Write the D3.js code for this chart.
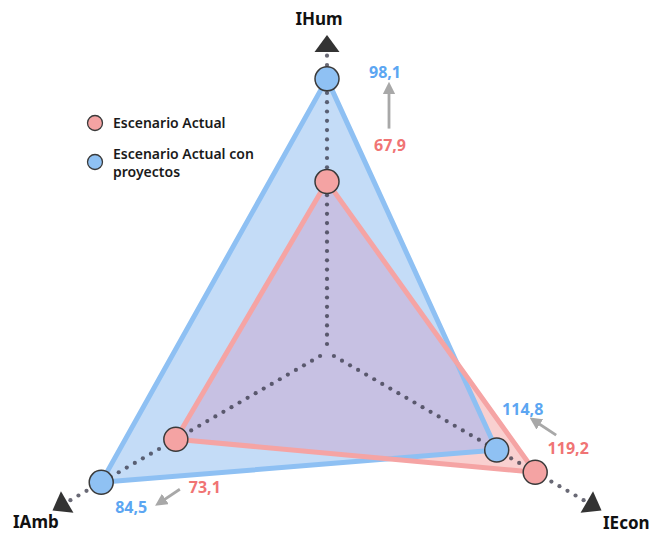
<!DOCTYPE html>
<html>
<head>
<meta charset="utf-8">
<script src="https://cdn.jsdelivr.net/npm/d3@7"></script>
<style>
  html, body { margin: 0; padding: 0; background: #fff; }
  svg { display: block; font-family: "Noto Sans", "Open Sans", sans-serif; }
</style>
</head>
<body>
<svg id="chart" width="654" height="533"></svg>
<script>
// Axes of the triangle (clockwise from the top)
const axes = ["IHum", "IEcon", "IAmb"];
// Each index has its own scale: value range mapped onto the axis length
const axisMin = [17.8, 95.4, 50.0];
const axisMax = [106.0, 125.1, 89.7];
const axisAngle = [-90, 30, 150];

const seriesNames = ["Escenario Actual", "Escenario Actual con proyectos"];
const actual = [67.9, 119.2, 73.1];
const withProjects = [98.1, 114.8, 84.5];

const fmt = v => String(v).replace(".", ",");

const cx = 327, cy = 352, R = 300;
const svg = d3.select("#chart");

const scales = axes.map((a, i) => d3.scaleLinear().domain([axisMin[i], axisMax[i]]).range([0, R]));
const rad = i => axisAngle[i] * Math.PI / 180;
const project = (i, v) => {
  const r = scales[i](v);
  return [cx + r * Math.cos(rad(i)), cy + r * Math.sin(rad(i))];
};
const polar = (i, r) => [cx + r * Math.cos(rad(i)), cy + r * Math.sin(rad(i))];

const ptsBlue = withProjects.map((v, i) => project(i, v));
const ptsRed = actual.map((v, i) => project(i, v));
const line = d3.line().curve(d3.curveLinearClosed);

const COL = {
  blueFill: "#c4dcf7", blueStroke: "#8ec0f3", blueDot: "#8fc1f3", blueText: "#5ca6f2",
  redFill: "#f9d0d0", redStroke: "#f5a4a4", redDot: "#f4a3a3", redText: "#f07474",
  overlap: "#c7c1e3", dark: "#333333", gray: "#a8a8a8"
};

// defs: clip path for the shared region, arrow marker
const defs = svg.append("defs");
defs.append("clipPath").attr("id", "clipBlue")
  .append("path").attr("d", line(ptsBlue));
defs.append("marker").attr("id", "grayHead")
  .attr("viewBox", "0 0 10 10").attr("refX", 5).attr("refY", 5)
  .attr("markerWidth", 4.4).attr("markerHeight", 4.4).attr("orient", "auto")
  .append("path").attr("d", "M0,0 L10,5 L0,10 Z").attr("fill", COL.gray);

// fills
svg.append("path").attr("d", line(ptsBlue)).attr("fill", COL.blueFill);
svg.append("path").attr("d", line(ptsRed)).attr("fill", COL.redFill);
svg.append("path").attr("d", line(ptsRed)).attr("fill", COL.overlap).attr("clip-path", "url(#clipBlue)");

// dotted axes
const gAxes = svg.append("g");
axes.forEach((a, i) => {
  const dots = d3.range(8, 300, 9.3);
  gAxes.selectAll(null).data(dots).enter().append("circle")
    .attr("cx", r => polar(i, r)[0]).attr("cy", r => polar(i, r)[1])
    .attr("r", 2.1).attr("fill", "#2f2f40").attr("opacity", 0.72);
  // arrow head at the end of each axis
  const base = polar(i, R), tip = polar(i, R + 17);
  const px = -Math.sin(rad(i)) * 12.5, py = Math.cos(rad(i)) * 12.5;
  gAxes.append("path")
    .attr("d", `M${tip[0]},${tip[1]} L${base[0] + px},${base[1] + py} L${base[0] - px},${base[1] - py} Z`)
    .attr("fill", COL.dark);
});

// outlines
svg.append("path").attr("d", line(ptsBlue)).attr("fill", "none")
  .attr("stroke", COL.blueStroke).attr("stroke-width", 5).attr("stroke-linejoin", "round");
svg.append("path").attr("d", line(ptsRed)).attr("fill", "none")
  .attr("stroke", COL.redStroke).attr("stroke-width", 5).attr("stroke-linejoin", "round");

// vertex markers
const drawPts = (pts, fill) => svg.append("g").selectAll("circle").data(pts).enter().append("circle")
  .attr("cx", d => d[0]).attr("cy", d => d[1]).attr("r", 12)
  .attr("fill", fill).attr("stroke", "#3a3a3a").attr("stroke-width", 1.5);
drawPts(ptsRed, COL.redDot);
drawPts(ptsBlue, COL.blueDot);

// axis titles
const titlePos = [
  { x: 319, y: 25, anchor: "middle" },
  { x: 603, y: 529, anchor: "start" },
  { x: 13, y: 528, anchor: "start" }
];
axes.forEach((a, i) => {
  svg.append("text").attr("x", titlePos[i].x).attr("y", titlePos[i].y)
    .attr("text-anchor", titlePos[i].anchor)
    .attr("font-size", 17).attr("font-weight", 700).attr("fill", "#111").text(a);
});

// value annotations (offsets from the vertex markers)
const blueOff = [[58, -6], [26, -41], [30, 25]];
const redOff = [[63, -36], [33, -24], [29, 48]];
const arrowFrom = [[-1, -17], [-12, -13], [-25, 2]];
const arrowTo = [[4, 15], [12, 12], [29, -5]];
axes.forEach((a, i) => {
  const bl = [ptsBlue[i][0] + blueOff[i][0], ptsBlue[i][1] + blueOff[i][1]];
  const rl = [ptsRed[i][0] + redOff[i][0], ptsRed[i][1] + redOff[i][1]];
  svg.append("text").attr("x", bl[0]).attr("y", bl[1]).attr("dy", "0.35em")
    .attr("text-anchor", "middle").attr("font-size", 16).attr("font-weight", 700)
    .attr("fill", COL.blueText).text(fmt(withProjects[i]));
  svg.append("text").attr("x", rl[0]).attr("y", rl[1]).attr("dy", "0.35em")
    .attr("text-anchor", "middle").attr("font-size", 16).attr("font-weight", 700)
    .attr("fill", COL.redText).text(fmt(actual[i]));
  svg.append("line")
    .attr("x1", rl[0] + arrowFrom[i][0]).attr("y1", rl[1] + arrowFrom[i][1])
    .attr("x2", bl[0] + arrowTo[i][0]).attr("y2", bl[1] + arrowTo[i][1])
    .attr("stroke", COL.gray).attr("stroke-width", 2.8)
    .attr("marker-end", "url(#grayHead)");
});

// legend
const legend = svg.append("g").attr("transform", "translate(95,123)");
const legendColors = [COL.redDot, COL.blueDot];
const legendLines = [["Escenario Actual"], ["Escenario Actual con", "proyectos"]];
seriesNames.forEach((s, k) => {
  const g = legend.append("g").attr("transform", `translate(0,${k * 39})`);
  g.append("circle").attr("r", 7.5).attr("fill", legendColors[k])
    .attr("stroke", "#3a3a3a").attr("stroke-width", 1.3);
  const lines = legendLines[k];
  lines.forEach((ln, j) => {
    g.append("text").attr("x", 18)
      .attr("y", (lines.length === 1 ? 0 : -8) + j * 18)
      .attr("dy", "0.35em")
      .attr("font-size", 14).attr("font-weight", 600).attr("fill", "#1a1a1a")
      .text(ln);
  });
});
</script>
</body>
</html>
